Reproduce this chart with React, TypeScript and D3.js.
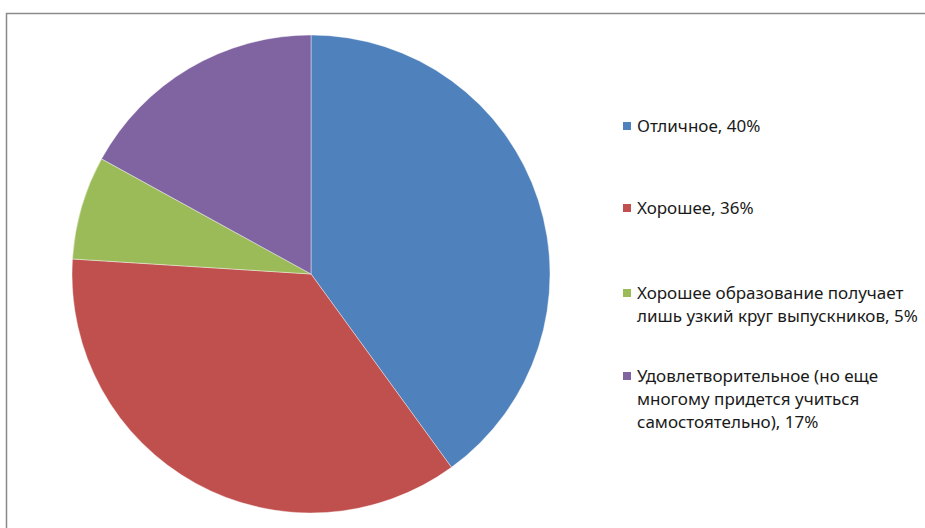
import React from "react";
import * as d3 from "d3";

const categories = [
  "Отличное",
  "Хорошее",
  "Хорошее образование получает лишь узкий круг выпускников",
  "Удовлетворительное (но еще многому придется учиться самостоятельно)",
];
const values = [40, 36, 7, 17];
const legendLines = [
  ["Отличное, 40%"],
  ["Хорошее, 36%"],
  ["Хорошее образование получает", "лишь узкий круг выпускников, 5%"],
  ["Удовлетворительное (но еще", "многому придется учиться", "самостоятельно), 17%"],
];
const colors = ["#4F81BD", "#C0504D", "#9BBB59", "#8064A2"];

const W = 925;
const H = 528;

export default function App() {
  const cx = 311;
  const cy = 274;
  const r = 239;
  const pie = d3.pie<number>().sort(null).value((d) => d);
  const arcs = pie(values);
  const arc = d3.arc<d3.PieArcDatum<number>>().innerRadius(0).outerRadius(r);
  const legendTop = [132, 214, 299, 382];
  const lineH = 23;
  return (
    <svg
      width={W}
      height={H}
      style={{ position: "fixed", left: 0, top: 0, background: "#fff" }}
      fontFamily="'Noto Sans', sans-serif"
    >
      <rect x={0} y={0} width={W} height={H} fill="#fff" />
      <rect x={6.5} y={13.5} width={1000} height={600} fill="none" stroke="#8a8a8a" strokeWidth={1.5} />
      <g transform={`translate(${cx},${cy})`}>
        {arcs.map((a, i) => (
          <path key={categories[i]} d={arc(a) || ""} fill={colors[i]} stroke="#ffffff" strokeOpacity={0.5} strokeWidth={0.8} />
        ))}
      </g>
      <g>
        {legendLines.map((lines, i) => (
          <g key={i}>
            <rect x={623} y={legendTop[i] - 10} width={8} height={8} fill={colors[i]} />
            <text x={637} y={legendTop[i]} fontSize={17} fill="#1a1a1a">
              {lines.map((l, j) => (
                <tspan key={j} x={637} y={legendTop[i] + j * lineH}>
                  {l}
                </tspan>
              ))}
            </text>
          </g>
        ))}
      </g>
    </svg>
  );
}
